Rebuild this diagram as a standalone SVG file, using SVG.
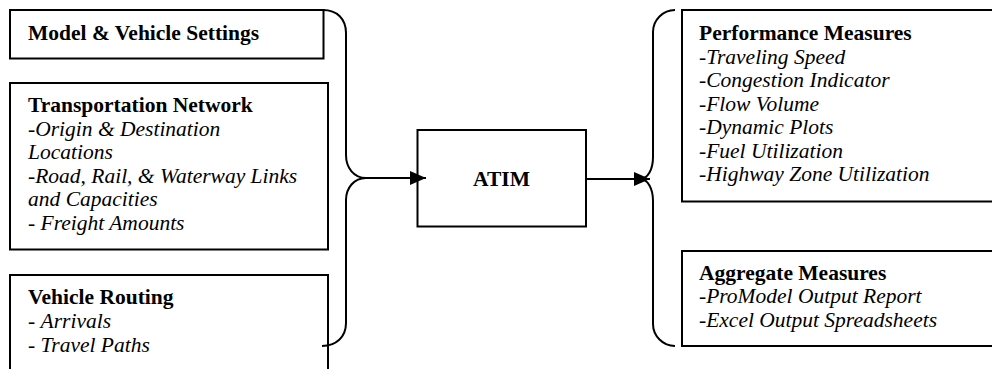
<svg xmlns="http://www.w3.org/2000/svg" width="992" height="369" viewBox="0 0 992 369">
<defs>
<style>
.box{fill:#fff;stroke:#000;stroke-width:2}
.t{font-family:"Liberation Serif","Times New Roman",serif;font-size:21.5px;fill:#000}
.b{font-weight:bold}
.i{font-style:italic}
.n{font-style:normal}
.c{fill:none;stroke:#000;stroke-width:2}
</style>
<marker id="ah" markerWidth="16" markerHeight="14" refX="16" refY="7" orient="auto" markerUnits="userSpaceOnUse">
<path d="M0,0 L16,7 L0,14 Z" fill="#000"/>
</marker>
</defs>
<rect width="992" height="369" fill="#fff"/>
<g id="model-settings">
<rect class="box" x="10" y="10" width="313.5" height="48.5"/>
<text class="t b" x="28" y="39.5">Model &amp; Vehicle Settings</text>
</g>
<g id="transportation-network">
<rect class="box" x="10" y="83" width="318" height="166.5"/>
<text class="t b" x="28" y="112">Transportation Network</text>
<text class="t i" x="28" y="135.5">-Origin &amp; Destination</text>
<text class="t i" x="28" y="159">Locations</text>
<text class="t i" x="28" y="182.5">-Road, Rail, &amp; Waterway Links</text>
<text class="t i" x="28" y="206">and Capacities</text>
<text class="t i" x="28" y="229.5"><tspan class="n">- </tspan>Freight Amounts</text>
</g>
<g id="vehicle-routing">
<rect class="box" x="10" y="275" width="318" height="110"/>
<text class="t b" x="28" y="304">Vehicle Routing</text>
<text class="t i" x="28" y="328"><tspan class="n">- </tspan>Arrivals</text>
<text class="t i" x="28" y="352"><tspan class="n">- </tspan>Travel Paths</text>
</g>
<g id="atim">
<rect class="box" x="417.5" y="130" width="168.5" height="96.5"/>
<text class="t b" x="501.5" y="185.5" text-anchor="middle">ATIM</text>
</g>
<g id="performance-measures">
<rect class="box" x="682" y="10" width="320" height="191.5"/>
<text class="t b" x="699" y="40">Performance Measures</text>
<text class="t i" x="699" y="63.5">-Traveling Speed</text>
<text class="t i" x="699" y="87">-Congestion Indicator</text>
<text class="t i" x="699" y="110.5">-Flow Volume</text>
<text class="t i" x="699" y="134">-Dynamic Plots</text>
<text class="t i" x="699" y="157.5">-Fuel Utilization</text>
<text class="t i" x="699" y="181">-Highway Zone Utilization</text>
</g>
<g id="aggregate-measures">
<rect class="box" x="682" y="251" width="320" height="95"/>
<text class="t b" x="699" y="280">Aggregate Measures</text>
<text class="t i" x="699" y="303">-ProModel Output Report</text>
<text class="t i" x="699" y="326.5">-Excel Output Spreadsheets</text>
</g>
<g id="connectors">
<path class="c" d="M323,10 C337,10 346,19 346,33 L346,155 C346,168 354,178 366,178 C354,178 346,188 346,200 L346,323 C346,337 336,346 322,346"/>
<path class="c" d="M366,178 L426,178" marker-end="url(#ah)"/>
<path class="c" d="M675,10 C663,10 653,20 653,32 L653,157 C653,169 648,179 640,179 C648,179 653,189 653,201 L653,324 C653,336 663,346 675,346"/>
<path class="c" d="M586,179 L650,179" marker-end="url(#ah)"/>
</g>
</svg>
